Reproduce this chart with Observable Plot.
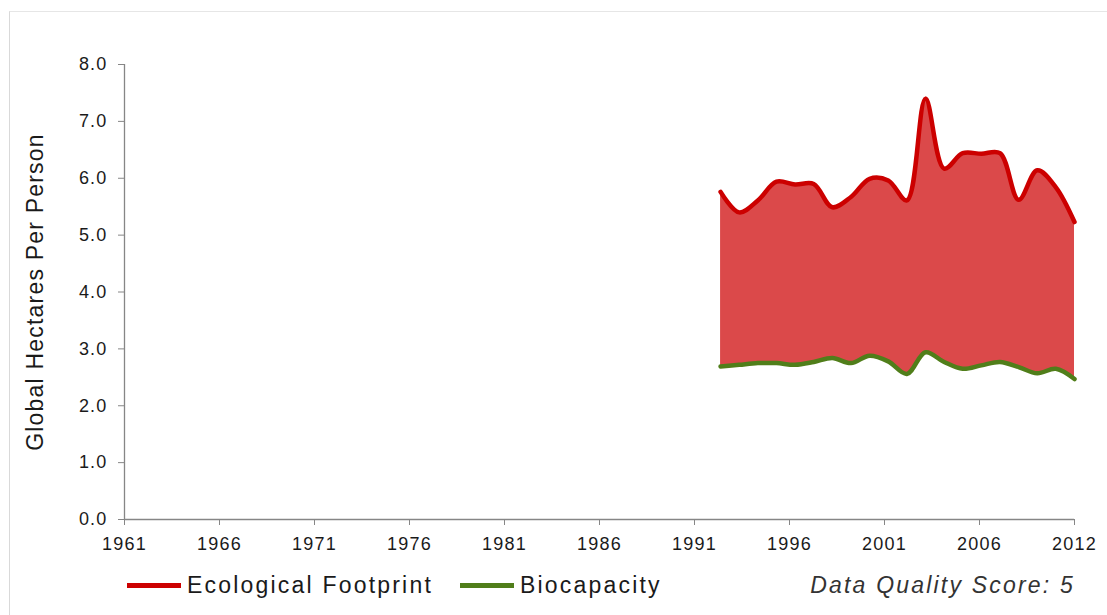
<!DOCTYPE html>
<html><head><meta charset="utf-8">
<script src="https://cdn.jsdelivr.net/npm/d3@7"></script>
<script src="https://cdn.jsdelivr.net/npm/@observablehq/plot@0.6"></script>
<style>
body{margin:0;background:#fff;font-family:"Liberation Sans",Arial,sans-serif;}
#wrap{position:relative;width:1107px;height:615px;overflow:hidden;background:#fff;}
#frame{position:absolute;left:9px;top:11px;width:1200px;height:700px;border-left:1px solid #d9d9d9;border-top:1px solid #e6e6e6;box-sizing:border-box;}
#chart{position:absolute;left:0;top:0;}
#legend{position:absolute;left:0;top:569px;width:1107px;height:32px;font-size:23px;letter-spacing:2.2px;color:#1a1a1a;}
.item{position:absolute;top:0;height:32px;display:flex;align-items:center;}
.sw{display:inline-block;width:54px;height:5px;margin-right:6px;}
#dq{position:absolute;right:32px;top:0;height:32px;line-height:32px;font-style:italic;color:#333;}
#chart svg text{letter-spacing:1.2px;}
</style></head>
<body>
<div id="wrap">
<div id="frame"></div>
<div id="chart"></div>
<div id="legend">
  <div class="item" style="left:127px"><span class="sw" style="background:#CC0000"></span><span id="l1"></span></div>
  <div class="item" style="left:460px"><span class="sw" style="background:#507E1A"></span><span id="l2"></span></div>
  <div id="dq"></div>
</div>
</div>
<script>
// ---- data ----
const years = [1993,1994,1995,1996,1997,1998,1999,2000,2001,2002,2003,2004,2005,2006,2007,2008,2009,2010,2011,2012];
const footprint = [5.76,5.40,5.61,5.94,5.89,5.90,5.49,5.67,5.99,5.96,5.61,7.40,6.17,6.44,6.43,6.44,5.62,6.14,5.84,5.23];
const biocapacity = [2.69,2.72,2.75,2.75,2.72,2.77,2.84,2.75,2.88,2.78,2.56,2.94,2.77,2.65,2.71,2.77,2.68,2.57,2.65,2.47];
const seriesNames = ["Ecological Footprint","Biocapacity"];
const xTickLabels = ["1961","1966","1971","1976","1981","1986","1991","1996","2001","2006","2012"];
const yTicks = [0,1,2,3,4,5,6,7,8];
const yTitle = "Global Hectares Per Person";
const qualityNote = "Data Quality Score:  5";

const rows = years.map((y,i)=>({year:y, fp:footprint[i], bc:biocapacity[i]}));
const xMin = +xTickLabels[0], xMax = +xTickLabels[xTickLabels.length-1];
// labels evenly spaced along the axis, as in the original
const xTickPos = xTickLabels.map((_,i)=> xMin + i*(xMax-xMin)/(xTickLabels.length-1));

const chart = Plot.plot({
  width: 1107, height: 559,
  marginLeft: 124, marginRight: 33, marginTop: 64, marginBottom: 40,
  style: {fontFamily: '"Liberation Sans", Arial, sans-serif', fontSize: "18px", color: "#1a1a1a", background: "transparent"},
  x: {domain: [xMin, xMax]},
  y: {domain: [0, 8]},
  marks: [
    Plot.areaY(rows, {x: "year", y1: "bc", y2: "fp", fill: "#DB494A", curve: "catmull-rom"}),
    Plot.line(rows, {x: "year", y: "bc", stroke: "#507E1A", strokeWidth: 4.5, curve: "catmull-rom"}),
    Plot.line(rows, {x: "year", y: "fp", stroke: "#CC0000", strokeWidth: 4.5, curve: "catmull-rom"}),
    Plot.ruleY([0], {stroke: "#868686", strokeWidth: 1.3}),
    Plot.ruleX([xMin], {stroke: "#868686", strokeWidth: 1.3}),
    Plot.axisX({ticks: xTickPos, tickFormat: d => xTickLabels[xTickPos.indexOf(d)], tickSize: 6, tickPadding: 12, label: null, stroke: "#868686", fontSize: 18}),
    Plot.axisY({ticks: yTicks, tickFormat: d3.format(".1f"), tickSize: 6, tickPadding: 11, label: null, stroke: "#868686", fontSize: 18}),
    Plot.text([yTitle], {frameAnchor: "left", textAnchor: "middle", rotate: -90, dx: -89, fontSize: 23, fill: "#1a1a1a", text: d => d})
  ]
});
document.getElementById("chart").appendChild(chart);
document.getElementById("l1").textContent = seriesNames[0];
document.getElementById("l2").textContent = seriesNames[1];
document.getElementById("dq").textContent = qualityNote;
</script>
</body></html>
